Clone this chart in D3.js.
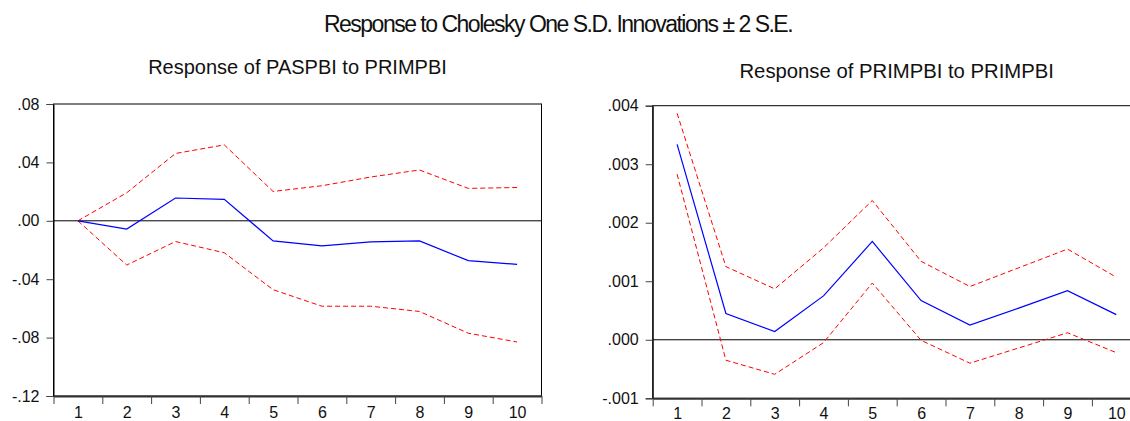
<!DOCTYPE html>
<html>
<head>
<meta charset="utf-8">
<script src="https://cdn.jsdelivr.net/npm/d3@7"></script>
<style>
  html, body { margin: 0; padding: 0; background: #fff; }
  svg { display: block; font-family: "Liberation Sans", Arial, sans-serif; }
</style>
</head>
<body>
<svg id="chart" width="1130" height="421"></svg>
<script>
// Forecast horizon (periods)
const periods = [1, 2, 3, 4, 5, 6, 7, 8, 9, 10];

// Response of PASPBI to PRIMPBI
const paspbiResponse = [0.0000, -0.0057, 0.0156, 0.0147, -0.0138, -0.0172, -0.0145, -0.0138, -0.0273, -0.0298];
const paspbiUpper    = [0.0000, 0.0192, 0.0461, 0.0520, 0.0201, 0.0240, 0.0300, 0.0348, 0.0222, 0.0228];
const paspbiLower    = [0.0000, -0.0303, -0.0142, -0.0219, -0.0472, -0.0585, -0.0585, -0.0621, -0.0770, -0.0830];
const paspbiTicks    = [0.08, 0.04, 0.00, -0.04, -0.08, -0.12];

// Response of PRIMPBI to PRIMPBI
const primpbiResponse = [0.00334, 0.00045, 0.00014, 0.00075, 0.00168, 0.00067, 0.00025, 0.00054, 0.00084, 0.00043];
const primpbiUpper    = [0.00387, 0.00125, 0.00087, 0.00157, 0.00238, 0.00134, 0.00091, 0.00123, 0.00155, 0.00107];
const primpbiLower    = [0.00283, -0.00035, -0.00059, -0.00005, 0.00097, -0.00001, -0.00040, -0.00014, 0.00012, -0.00022];
const primpbiTicks    = [0.004, 0.003, 0.002, 0.001, 0.000, -0.001];

const svg = d3.select("#chart");

svg.append("text")
  .attr("x", 558).attr("y", 32)
  .attr("text-anchor", "middle")
  .style("font-size", "23px")
  .style("letter-spacing", "-1.5px")
  .attr("fill", "#111")
  .text("Response to Cholesky One S.D. Innovations \u00b1 2 S.E.");

// ".08", "-.04", ".000" style labels with a plain hyphen
function tickText(fmt) {
  return d => d3.format(fmt)(d).replace("\u2212", "-").replace("0.", ".");
}

function panel(opts) {
  const g = svg.append("g");
  const left = opts.left, top = opts.top, w = opts.width, h = opts.height;

  // band-centred positions: ticks at boundaries, points at centres
  const x = d3.scaleLinear().domain([0.5, periods.length + 0.5]).range([left, left + w]);
  const y = d3.scaleLinear().domain(opts.domain).range([top + h, top]);

  // title
  g.append("text")
    .attr("x", left + w / 2).attr("y", opts.titleY)
    .attr("text-anchor", "middle")
    .style("font-size", opts.titleSize)
    .attr("fill", "#111")
    .text(opts.title);

  // frame
  g.append("rect")
    .attr("x", left).attr("y", top).attr("width", w).attr("height", h)
    .attr("fill", "none").attr("stroke", "#000").attr("stroke-width", 1);

  // zero line
  g.append("line")
    .attr("x1", left).attr("x2", left + w)
    .attr("y1", y(0)).attr("y2", y(0))
    .attr("stroke", "#000").attr("stroke-width", 1);

  // y axis
  const yAxis = g.append("g")
    .attr("transform", `translate(${left},0)`)
    .call(d3.axisLeft(y).tickValues(opts.ticks).tickSize(7).tickPadding(7)
      .tickFormat(tickText(opts.fmt)));
  yAxis.select(".domain").attr("stroke", "#000");
  yAxis.selectAll(".tick line").attr("stroke", "#444");
  yAxis.selectAll("text").style("font-size", "16px").attr("fill", "#111")
    .style("font-family", "'Liberation Sans', Arial, sans-serif");

  // x axis: boundary ticks
  const boundaries = d3.range(0.5, periods.length + 1, 1);
  const xTicks = g.append("g")
    .attr("transform", `translate(0,${top + h})`)
    .call(d3.axisBottom(x).tickValues(boundaries).tickSize(8).tickSizeOuter(0).tickFormat(""));
  xTicks.select(".domain").attr("stroke", "#333").attr("stroke-width", 2);
  xTicks.selectAll(".tick line").attr("stroke", "#444");

  // x axis: period labels
  const xLabels = g.append("g")
    .attr("transform", `translate(0,${top + h})`)
    .call(d3.axisBottom(x).tickValues(periods).tickSize(0).tickPadding(opts.labelPad).tickFormat(d3.format("d")));
  xLabels.select(".domain").remove();
  xLabels.selectAll("text").style("font-size", "16px").attr("fill", "#111")
    .style("font-family", "'Liberation Sans', Arial, sans-serif");

  const line = d3.line().x((d, i) => x(periods[i])).y(d => y(d));

  g.append("path").datum(opts.upper).attr("d", line)
    .attr("fill", "none").attr("stroke", "#ff0000").attr("stroke-width", 1)
    .attr("stroke-dasharray", "5,3");
  g.append("path").datum(opts.lower).attr("d", line)
    .attr("fill", "none").attr("stroke", "#ff0000").attr("stroke-width", 1)
    .attr("stroke-dasharray", "5,3");
  g.append("path").datum(opts.response).attr("d", line)
    .attr("fill", "none").attr("stroke", "#0000ff").attr("stroke-width", 1.2);
}

panel({
  left: 53.5, top: 104, width: 488, height: 292,
  domain: [-0.12, 0.08], ticks: paspbiTicks, fmt: ".2f", labelPad: 11,
  title: "Response of PASPBI to PRIMPBI", titleY: 74, titleSize: "20px",
  response: paspbiResponse, upper: paspbiUpper, lower: paspbiLower
});

panel({
  left: 652.7, top: 105.7, width: 488, height: 292.6,
  domain: [-0.001, 0.004], ticks: primpbiTicks, fmt: ".3f", labelPad: 9,
  title: "Response of PRIMPBI to PRIMPBI", titleY: 78, titleSize: "20.3px",
  response: primpbiResponse, upper: primpbiUpper, lower: primpbiLower
});
</script>
</body>
</html>
